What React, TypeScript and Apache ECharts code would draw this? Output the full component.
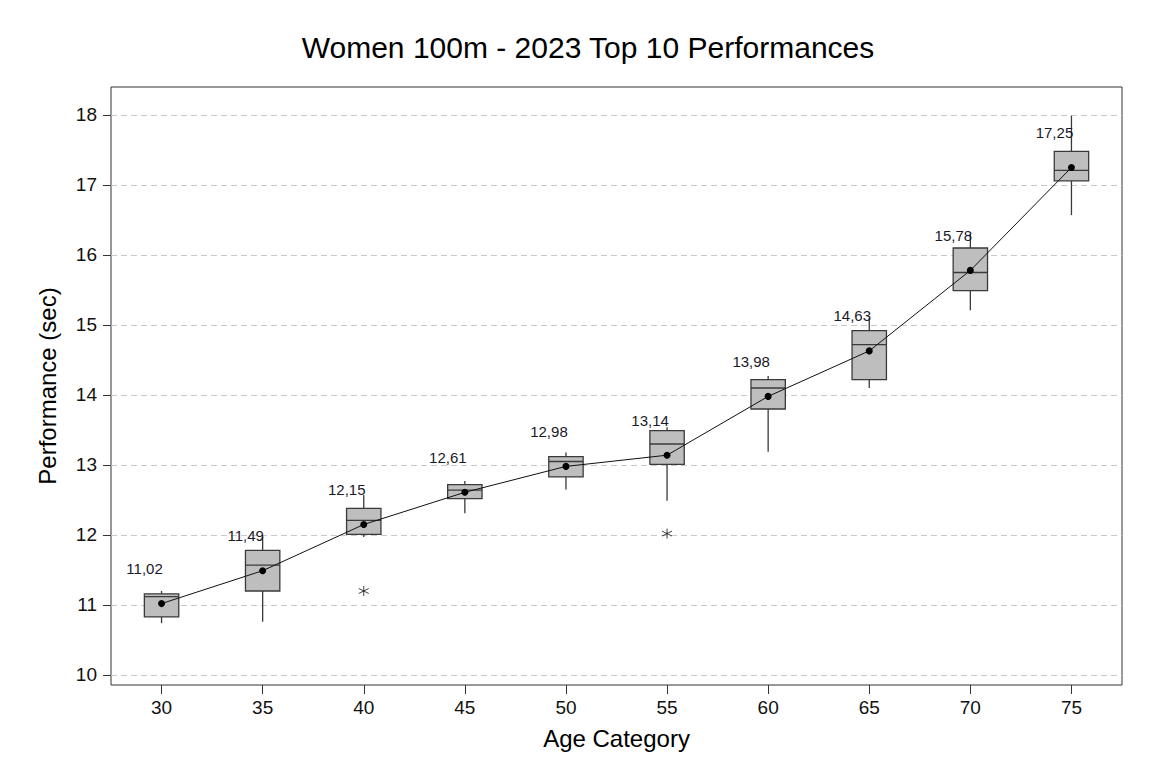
import React, { useEffect, useRef } from "react";
import * as echarts from "echarts";

const categories = ["30", "35", "40", "45", "50", "55", "60", "65", "70", "75"];
const whiskerLow = [10.74, 10.76, 11.97, 12.31, 12.65, 12.49, 13.19, 14.1, 15.21, 16.57];
const q1 = [10.83, 11.2, 12.01, 12.52, 12.83, 13.01, 13.8, 14.22, 15.49, 17.06];
const median = [11.12, 11.57, 12.21, 12.64, 13.05, 13.3, 14.1, 14.72, 15.75, 17.21];
const q3 = [11.16, 11.78, 12.38, 12.72, 13.12, 13.49, 14.22, 14.92, 16.1, 17.48];
const whiskerHigh = [11.2, 11.98, 12.57, 12.77, 13.18, 13.54, 14.27, 15.1, 16.3, 17.99];
const means = [11.02, 11.49, 12.15, 12.61, 12.98, 13.14, 13.98, 14.63, 15.78, 17.25];
const outliers: [number, number][] = [
  [2, 11.2],
  [5, 12.02],
];
const yTicks = [10, 11, 12, 13, 14, 15, 16, 17, 18];

const FONT = "Liberation Sans, Arial, sans-serif";

export default function App() {
  const ref = useRef<HTMLDivElement>(null);
  useEffect(() => {
    if (!ref.current) return;
    const chart = echarts.init(ref.current, undefined, { renderer: "svg" });
    const boxData = categories.map((_, i) => [i, whiskerLow[i], q1[i], median[i], q3[i], whiskerHigh[i]]);
    const stroke = "#3a3a3a";
    chart.setOption({
      animation: false,
      backgroundColor: "#ffffff",
      textStyle: { fontFamily: FONT },
      title: {
        text: "Women 100m - 2023 Top 10 Performances",
        left: "center",
        top: 32,
        padding: 0,
        textStyle: { fontFamily: FONT, fontSize: 30, fontWeight: "normal", color: "#000" },
      },
      grid: {
        left: 111,
        right: 54,
        top: 87,
        bottom: 90,
        show: true,
        borderColor: "#333",
        borderWidth: 1,
        backgroundColor: "transparent",
      },
      xAxis: {
        type: "category",
        data: categories,
        boundaryGap: true,
        name: "Age Category",
        nameLocation: "middle",
        nameGap: 41,
        nameTextStyle: { fontFamily: FONT, fontSize: 24, color: "#000" },
        axisLine: { show: false },
        axisTick: { show: true, alignWithLabel: true, length: 9, lineStyle: { color: "#333" } },
        axisLabel: { fontFamily: FONT, fontSize: 19, color: "#111", margin: 13 },
        splitLine: { show: false },
      },
      yAxis: {
        type: "value",
        min: 9.857,
        max: 18.4,
        minInterval: 1,
        maxInterval: 1,
        name: "Performance (sec)",
        nameLocation: "middle",
        nameGap: 52,
        nameTextStyle: { fontFamily: FONT, fontSize: 24, color: "#000" },
        axisLine: { show: false },
        axisTick: { show: true, length: 8, lineStyle: { color: "#333" }, customValues: yTicks },
        axisLabel: { fontFamily: FONT, fontSize: 19, color: "#111", margin: 14, customValues: yTicks },
        splitLine: { show: true, lineStyle: { color: "#c8c8c8", type: [6, 4], width: 1 } },
      },
      series: [
        {
          type: "custom",
          data: boxData,
          encode: { x: 0, y: [1, 2, 3, 4, 5] },
          z: 2,
          renderItem: (params: any, api: any) => {
            const idx = api.value(0);
            const pLow = api.coord([idx, api.value(1)]);
            const pQ1 = api.coord([idx, api.value(2)]);
            const pMed = api.coord([idx, api.value(3)]);
            const pQ3 = api.coord([idx, api.value(4)]);
            const pHigh = api.coord([idx, api.value(5)]);
            const w = api.size([1, 0])[0] * 0.34;
            const x = pQ1[0];
            const lineStyle = { stroke, lineWidth: 1.3, fill: "none" };
            return {
              type: "group",
              children: [
                { type: "line", shape: { x1: x, y1: pHigh[1], x2: x, y2: pQ3[1] }, style: lineStyle },
                { type: "line", shape: { x1: x, y1: pQ1[1], x2: x, y2: pLow[1] }, style: lineStyle },
                {
                  type: "rect",
                  shape: { x: x - w / 2, y: pQ3[1], width: w, height: pQ1[1] - pQ3[1] },
                  style: { fill: "#bebebe", stroke, lineWidth: 1.3 },
                },
                {
                  type: "line",
                  shape: { x1: x - w / 2, y1: pMed[1], x2: x + w / 2, y2: pMed[1] },
                  style: lineStyle,
                },
              ],
            };
          },
        },
        {
          type: "line",
          data: means,
          z: 5,
          symbol: "circle",
          symbolSize: 7,
          itemStyle: { color: "#000" },
          lineStyle: { color: "#111", width: 1 },
          label: {
            show: true,
            position: "inside",
            offset: [-17, -35],
            fontFamily: FONT,
            fontSize: 15,
            color: "#1a1a2a",
            formatter: (p: any) => Number(p.value).toFixed(2).replace(".", ","),
          },
        },
        {
          type: "scatter",
          data: outliers,
          z: 6,
          symbol: "path://M5 0 L5 10 M0.7 2.5 L9.3 7.5 M0.7 7.5 L9.3 2.5",
          symbolSize: 10,
          itemStyle: { color: "none", borderColor: "#111", borderWidth: 1 },
        },
      ],
    });
    return () => chart.dispose();
  }, []);
  return (
    <div
      ref={ref}
      style={{ position: "fixed", left: 0, top: 0, width: 1176, height: 775, background: "#fff" }}
    />
  );
}
